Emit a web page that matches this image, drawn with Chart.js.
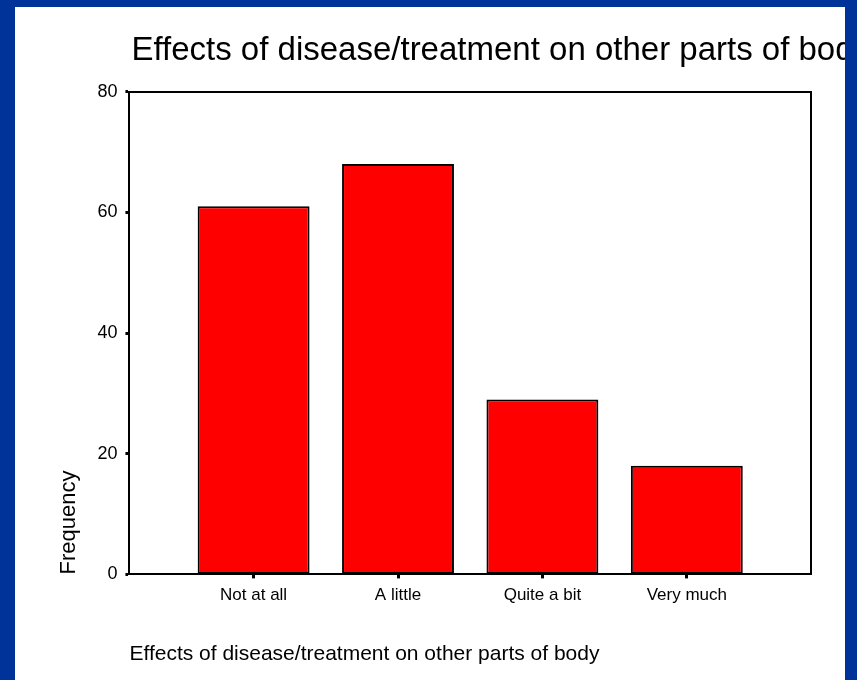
<!DOCTYPE html>
<html>
<head>
<meta charset="utf-8">
<title>Effects of disease/treatment on other parts of body</title>
<script src="https://cdn.jsdelivr.net/npm/chart.js@4.4.0/dist/chart.umd.min.js"></script>
<style>
  html, body { margin: 0; padding: 0; width: 857px; height: 680px; overflow: hidden; background: #003399; }
  /* white slide area, the chart runs on under the right blue edge like the original */
  #frame { position: absolute; left: 15px; top: 7px; width: 830px; height: 673px; background: #fff; overflow: hidden; }
  #wrap { position: relative; width: 950px; height: 673px; }
</style>
</head>
<body>
<div id="frame"><div id="wrap"><canvas id="chart"></canvas></div></div>
<script>
// Data
const CATEGORIES = ['Not at all', 'A little', 'Quite a bit', 'Very much'];
const FREQUENCY = [61, 68, 29, 18];
const Y_TICKS = [0, 20, 40, 60, 80];
const TITLE = 'Effects of disease/treatment on other parts of body';

Chart.defaults.font.family = "'Liberation Sans', Arial, sans-serif";
Chart.defaults.color = '#000';

// Start the chart title at the left edge of the plot box and let it run
// to the canvas edge (it gets cut off by the slide border, as in the original)
const titleAtPlotLeft = {
  id: 'titleAtPlotLeft',
  afterLayout(chart) {
    const t = chart.titleBlock;
    if (!t) return;
    t.left = chart.chartArea.left + 2;
    t.right = chart.width;
  },
};

const frameSide = {
  display: true,
  min: 0,
  max: 1,
  ticks: { display: false },
  grid: { display: false, drawTicks: false },
  border: { color: '#000', width: 2 },
};

new Chart(document.getElementById('chart'), {
  type: 'bar',
  data: {
    datasets: [{
      label: 'Frequency',
      data: FREQUENCY.map((v, i) => ({ x: i, y: v })),
      backgroundColor: '#ff0000',
      borderColor: '#000',
      borderWidth: 2,
      borderSkipped: false,
      categoryPercentage: 1,
      barPercentage: 0.775,
    }],
  },
  options: {
    responsive: true,
    maintainAspectRatio: false,
    animation: false,
    layout: { padding: { left: 30, right: 154, top: 0, bottom: 0 } },
    plugins: {
      legend: { display: false },
      tooltip: { enabled: false },
      title: {
        display: true,
        text: TITLE,
        align: 'start',
        color: '#000',
        font: { size: 33, weight: 'normal' },
        padding: { top: 24, bottom: 21 },
      },
    },
    scales: {
      x: {
        type: 'linear',
        offset: false,
        min: -0.86,
        max: 3.86,
        afterBuildTicks: s => { s.ticks = CATEGORIES.map((_, i) => ({ value: i })); },
        ticks: {
          callback: v => CATEGORIES[v],
          font: { size: 17 },
          padding: 7,
          maxRotation: 0,
          autoSkip: false,
        },
        grid: { offset: false, drawOnChartArea: false, tickLength: 4, tickWidth: 3, tickColor: '#000' },
        border: { color: '#000', width: 2 },
        title: {
          display: true,
          text: TITLE,
          align: 'start',
          font: { size: 21 },
          padding: { top: 29, bottom: 13 },
        },
      },
      y: {
        min: 0,
        max: 80,
        afterBuildTicks: s => { s.ticks = Y_TICKS.map(v => ({ value: v })); },
        ticks: { font: { size: 18 }, padding: 8 },
        grid: { drawOnChartArea: false, tickLength: 4, tickWidth: 3, tickColor: '#000' },
        border: { color: '#000', width: 2 },
        title: {
          display: true,
          text: 'Frequency',
          align: 'start',
          font: { size: 22 },
          padding: { top: 11, bottom: 7 },
        },
      },
      x2: { ...frameSide, type: 'linear', position: 'top' },
      y2: { ...frameSide, type: 'linear', position: 'right' },
    },
  },
  plugins: [titleAtPlotLeft],
});
</script>
</body>
</html>
